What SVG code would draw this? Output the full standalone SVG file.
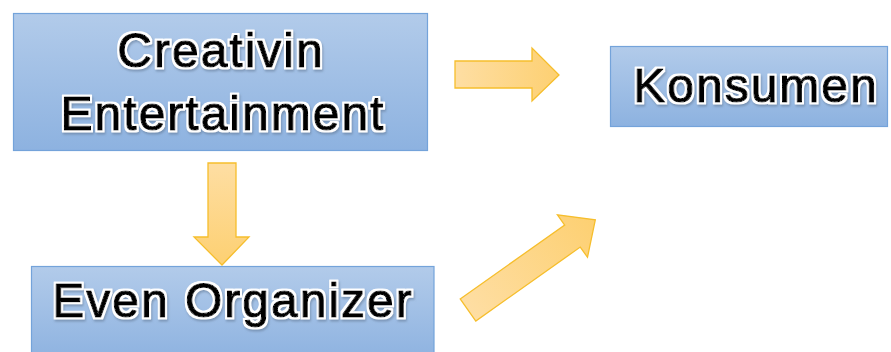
<svg xmlns="http://www.w3.org/2000/svg" width="891" height="352" viewBox="0 0 891 352">
  <defs>
    <linearGradient id="boxGrad" x1="0" y1="0" x2="0" y2="1">
      <stop offset="0" stop-color="#b2cbea"/>
      <stop offset="1" stop-color="#8db2e0"/>
    </linearGradient>
    <linearGradient id="arrowGrad" x1="0" y1="0" x2="1" y2="0">
      <stop offset="0" stop-color="#fedea3"/>
      <stop offset="1" stop-color="#fdd072"/>
    </linearGradient>
    <linearGradient id="arrowGradV" x1="0" y1="0" x2="0" y2="1">
      <stop offset="0" stop-color="#fedea3"/>
      <stop offset="1" stop-color="#fdd072"/>
    </linearGradient>
    <filter id="glow" x="-10%" y="-30%" width="120%" height="160%">
      <feMorphology in="SourceAlpha" operator="dilate" radius="2.2" result="d"/>
      <feGaussianBlur in="d" stdDeviation="1.3" result="b"/>
      <feOffset dx="1" dy="1.5" in="b" result="o"/>
      <feFlood flood-color="#5f7590" flood-opacity="0.55"/>
      <feComposite in2="o" operator="in" result="s"/>
      <feFlood flood-color="#ffffff"/>
      <feComposite in2="d" operator="in" result="w"/>
      <feMerge><feMergeNode in="s"/><feMergeNode in="w"/><feMergeNode in="SourceGraphic"/></feMerge>
    </filter>
  </defs>
  <style>
    .box { fill: url(#boxGrad); stroke: #74a3da; stroke-width: 1.2; }
    .lbl { font-family: "Liberation Sans", Arial, sans-serif; font-size: 48px; fill: #000; stroke: #000; stroke-width: 1.1; stroke-linejoin: round; text-anchor: middle; letter-spacing: 2px; filter: url(#glow); }
    .arrow { stroke: #f6be2c; stroke-width: 1.3; stroke-linejoin: miter; }
  </style>

  <g id="node-creativin">
    <rect class="box" x="13.5" y="13.5" width="414" height="137"/>
    <text class="lbl" x="221" y="67">Creativin</text>
    <text class="lbl" x="223" y="130">Entertainment</text>
  </g>

  <g id="node-konsumen">
    <rect class="box" x="610.5" y="46.5" width="277" height="80"/>
    <text class="lbl" x="756" y="102">Konsumen</text>
  </g>

  <g id="node-even-organizer">
    <rect class="box" x="31.5" y="266.5" width="402.5" height="95"/>
    <text class="lbl" x="233" y="317">Even Organizer</text>
  </g>

  <g id="connectors">
    <path class="arrow" fill="url(#arrowGrad)" d="M455,61 L532,61 L532,48 L559,75 L532,101 L532,88 L455,88 Z"/>
    <path class="arrow" fill="url(#arrowGradV)" d="M208,163 L236,163 L236,237 L249,237 L222,265 L194,237 L208,237 Z"/>
    <path class="arrow" fill="url(#arrowGrad)" transform="translate(468,310) rotate(-35.3)" d="M0,-13.5 L128,-13.5 L128,-26 L156,0 L128,26 L128,13.5 L0,13.5 Z"/>
  </g>
</svg>
